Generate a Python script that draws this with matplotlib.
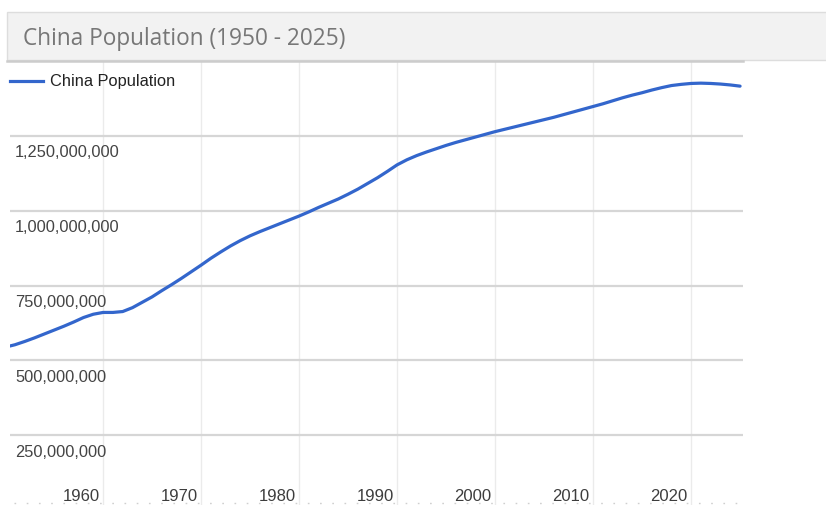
import matplotlib

matplotlib.use("Agg")
import matplotlib.pyplot as plt
import matplotlib.transforms as mtransforms
from matplotlib.patches import Rectangle
from matplotlib.lines import Line2D

# China population, mid-year estimates (millions), 1950 - 2025
years = list(range(1950, 2026))
population_m = [
    544, 552, 563, 575, 588, 601, 614, 628, 643, 654,
    660, 660, 663, 676, 694, 712, 733, 753, 774, 796,
    818, 841, 862, 882, 900, 916, 930, 943, 956, 969,
    982, 996, 1011, 1025, 1039, 1055, 1072, 1091, 1110, 1131,
    1153, 1170, 1184, 1196, 1207, 1218, 1228, 1237, 1246, 1255,
    1264, 1272, 1280, 1288, 1296, 1304, 1312, 1321, 1330, 1339,
    1348, 1357, 1367, 1377, 1386, 1394, 1403, 1411, 1418, 1422,
    1425, 1426, 1425, 1423, 1420, 1416,
]
population = [p * 1e6 for p in population_m]

x_ticks = [1960, 1970, 1980, 1990, 2000, 2010, 2020]
y_ticks = [250e6, 500e6, 750e6, 1000e6, 1250e6]
y_tick_labels = ["250,000,000", "500,000,000", "750,000,000", "1,000,000,000", "1,250,000,000"]

title = "China Population (1950 - 2025)"
series_name = "China Population"
line_color = "#3366cc"

W, H = 826, 506
fig = plt.figure(figsize=(W / 100, H / 100), dpi=100)
fig.patch.set_facecolor("white")


def fx(px):
    return px / W


def fy(py):
    return 1 - py / H


# plot area
ax = fig.add_axes([fx(10), fy(511), fx(743) - fx(10), fy(62) - fy(511)])
ax.set_xlim(1950.5, 2025.3)
ax.set_ylim(0, 1.5e9)
for s in ax.spines.values():
    s.set_visible(False)
ax.set_xticks(x_ticks)
ax.set_yticks(y_ticks)
ax.tick_params(length=0, labelbottom=False, labelleft=False)
ax.xaxis.grid(True, color="#ebebeb", lw=1.0)
ax.yaxis.grid(True, color="#d6d6d6", lw=1.6)
ax.set_axisbelow(True)
for gl in ax.get_xgridlines():
    gl.set_clip_on(False)

ax.plot(years, population, color=line_color, lw=2.3, solid_capstyle="round", zorder=3)

# y labels sit below their gridlines
ytrans = mtransforms.blended_transform_factory(fig.transFigure, ax.transData) + \
    mtransforms.ScaledTranslation(0, -16 / 100, fig.dpi_scale_trans)
for v, lab in zip(y_ticks, y_tick_labels):
    ax.text(fx(15), v, lab, transform=ytrans, ha="left", va="center",
            fontsize=11.8, family="Liberation Sans", color="#444444")

# x labels, shifted left of the gridlines
xtrans = mtransforms.blended_transform_factory(ax.transData, fig.transFigure) + \
    mtransforms.ScaledTranslation(-22 / 100, 0, fig.dpi_scale_trans)
for yr in x_ticks:
    ax.text(yr, fy(497), str(yr), transform=xtrans, ha="center", va="center",
            fontsize=12, family="Liberation Sans", color="#3d3d3d")

# faint dotted baseline
fig.add_artist(Line2D([fx(14), fx(742)], [fy(504), fy(504)], color="#cfcfcf",
                      lw=1, linestyle=(0, (1.2, 7.6))))

# title bar
fig.add_artist(Rectangle((fx(7), fy(61)), fx(830) - fx(7), fy(13) - fy(61),
                         facecolor="#f2f2f2", edgecolor="#dddddd", lw=1))
fig.add_artist(Line2D([fx(7), fx(743)], [fy(61.5), fy(61.5)], color="#cccccc", lw=1.8))
fig.text(fx(23), fy(39), title, ha="left", va="center", fontsize=16.3,
         family="Open Sans", color="#777777")

# legend
fig.add_artist(Line2D([fx(10), fx(43)], [fy(82), fy(82)], color=line_color, lw=2.3))
fig.text(fx(50), fy(82), series_name, ha="left", va="center", fontsize=11.8,
         family="Liberation Sans", color="#222222")

fig.savefig("out.png", dpi=100)
